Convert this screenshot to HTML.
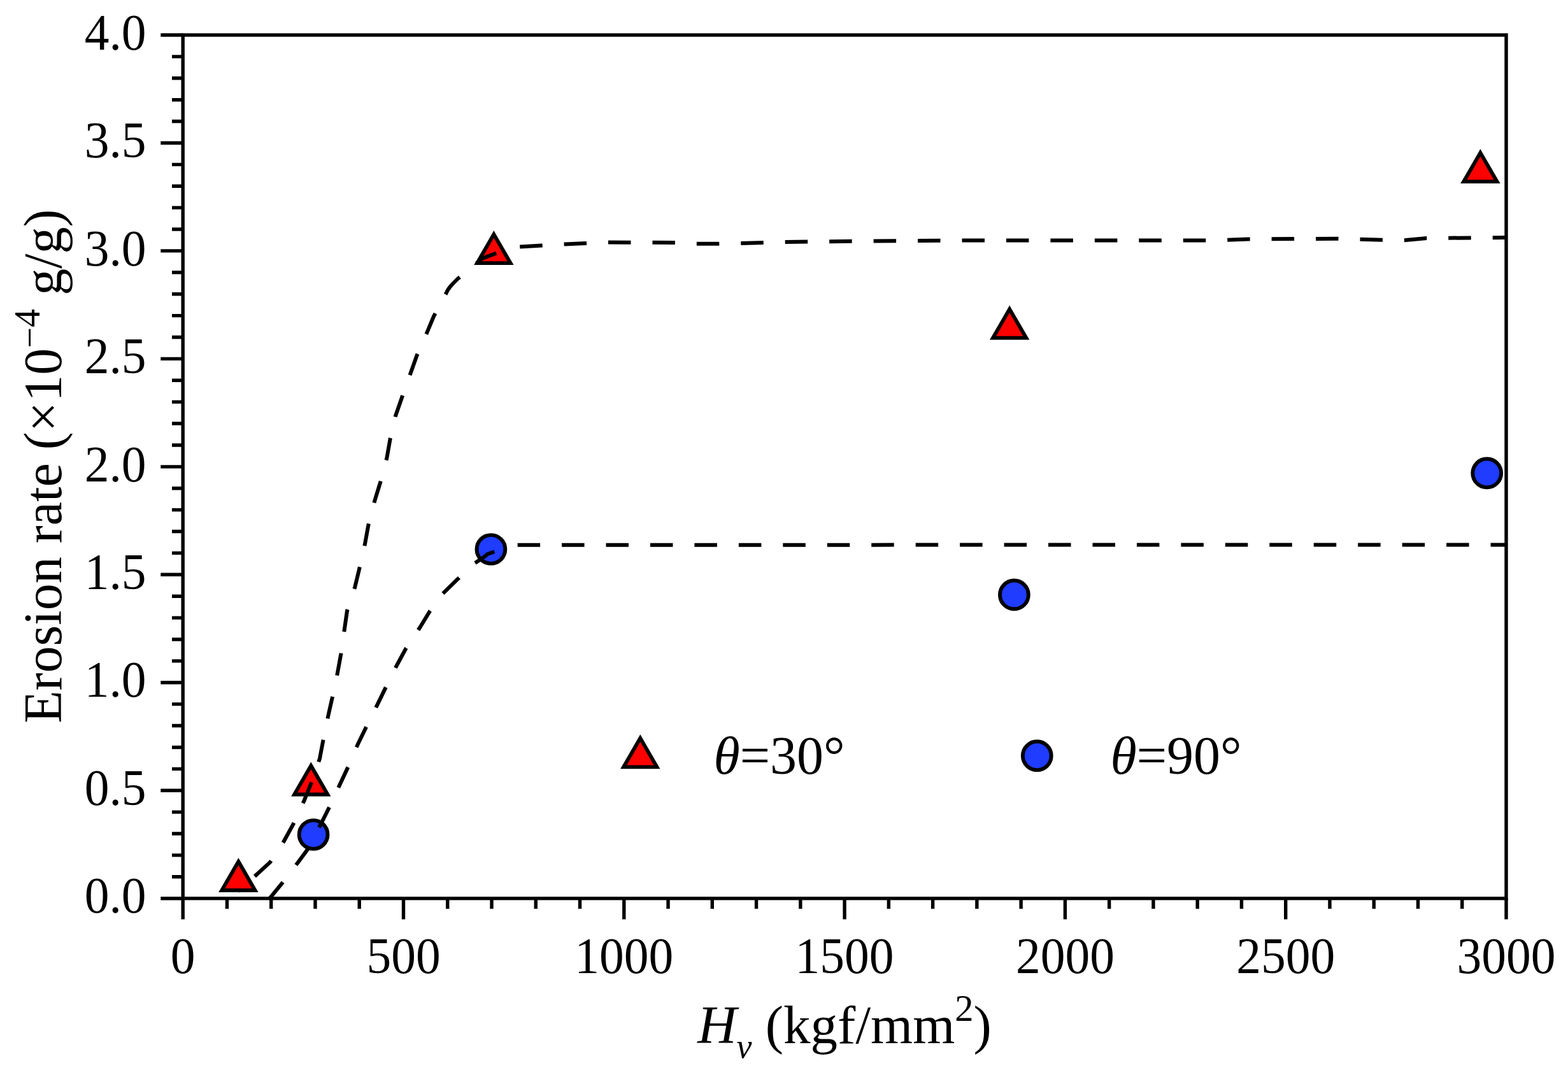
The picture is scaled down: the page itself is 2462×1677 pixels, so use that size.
<!DOCTYPE html>
<html><head><meta charset="utf-8"><title>Erosion rate vs Hv</title>
<style>html,body{margin:0;padding:0;background:#fff;}svg{display:block;}</style>
</head><body>
<svg width="2462" height="1677" viewBox="0 0 2462 1677">
<rect width="2462" height="1677" fill="#fff"/>
<path d="M374.4 1352.7 L400.6 1398.0 L348.2 1398.0 Z" fill="#fe0000" stroke="#000" stroke-width="5.8" stroke-linejoin="miter"/>
<path d="M488.3 1202.2 L514.5 1247.5 L462.1 1247.5 Z" fill="#fe0000" stroke="#000" stroke-width="5.8" stroke-linejoin="miter"/>
<path d="M775.4 367.9 L801.6 413.2 L749.2 413.2 Z" fill="#fe0000" stroke="#000" stroke-width="5.8" stroke-linejoin="miter"/>
<path d="M1585.2 485.4 L1611.4 530.7 L1559.0 530.7 Z" fill="#fe0000" stroke="#000" stroke-width="5.8" stroke-linejoin="miter"/>
<path d="M2324.4 239.9 L2350.6 285.2 L2298.2 285.2 Z" fill="#fe0000" stroke="#000" stroke-width="5.8" stroke-linejoin="miter"/>
<circle cx="492.1" cy="1310.5" r="22.4" fill="#1f3cff" stroke="#000" stroke-width="5.9"/>
<circle cx="770.9" cy="862.5" r="22.4" fill="#1f3cff" stroke="#000" stroke-width="5.9"/>
<circle cx="1592.4" cy="933.9" r="22.4" fill="#1f3cff" stroke="#000" stroke-width="5.9"/>
<circle cx="2334.7" cy="742.9" r="22.4" fill="#1f3cff" stroke="#000" stroke-width="5.9"/>
<g fill="none" stroke="#000" stroke-width="6.0" stroke-linecap="butt" stroke-linejoin="round" stroke-dasharray="35.5 33.95">
<path d="M374.1 1399.6 L399.9 1376.0 L424.1 1353.9 L445.6 1321.3 L460.6 1293.9 L477.4 1257.6 L488.9 1229.0 L502.0 1191.3 L507.3 1163.2 L515.2 1124.5 L521.7 1095.7 L530.0 1056.3 L535.4 1026.7 L540.9 987.8 L545.0 959.3 L557.3 921.8 L564.5 891.9 L573.1 853.7 L578.4 824.5 L588.3 786.3 L597.2 757.3 L607.3 719.4 L612.7 689.0 L621.2 652.4 L631.3 623.4 L644.3 586.9 L654.5 558.2 L670.1 522.9 L681.1 496.6 L700.5 460.5 L703.0 455.5 L706.5 450.5 L711.0 445.5 L717.9 438.5 L737.6 422.1 L757.4 405.7 L779.9 397.2 L797.5 392.3" stroke-dashoffset="34.40"/>
<path d="M797.5 392.3 L815.1 387.6 L850.7 385.6 L884.6 383.6 L919.4 382.0 L955.0 380.5 L1060.0 381.0 L1093.0 382.8 L1127.0 382.8 L1163.0 382.0 L1231.9 380.0 L1301.6 379.2 L1371.3 378.4 L1500.0 377.6 L1900.0 377.6 L1960.0 375.5 L2100.0 374.7 L2170.0 376.8 L2205.0 377.2 L2240.0 374.0 L2365.0 373.0" stroke-dashoffset="50.05"/>
<path d="M423.4 1410.7 L442.5 1387.4 L466.0 1356.7 L481.8 1335.4 L504.8 1292.0 L517.2 1267.3 L533.1 1232.9 L546.4 1204.6 L561.9 1168.5 L574.8 1142.0 L592.2 1107.1 L605.9 1079.0 L623.3 1044.2 L637.7 1017.6 L659.2 985.5 L674.9 959.8 L693.9 933.4 L717.2 910.6 L745.8 884.2 L757.5 876.5 L765.2 870.3 L776.8 866.0 L786.0 862.5 L794.6 859.8" stroke-dashoffset="2.65"/>
<path d="M794.6 859.8 L803.5 857.3 L812.5 855.7 L2365.0 855.5" stroke-dashoffset="50.93"/>
</g>
<g stroke="#000" stroke-width="5.4" fill="none">
<rect x="287.2" y="55.0" width="2077.8" height="1355.7" stroke-linejoin="miter"/>
<path d="M252.3 1410.70H287.2M270.0 1376.81H287.2M270.0 1342.91H287.2M270.0 1309.02H287.2M270.0 1275.13H287.2M252.3 1241.24H287.2M270.0 1207.35H287.2M270.0 1173.45H287.2M270.0 1139.56H287.2M270.0 1105.67H287.2M252.3 1071.78H287.2M270.0 1037.88H287.2M270.0 1003.99H287.2M270.0 970.10H287.2M270.0 936.21H287.2M252.3 902.31H287.2M270.0 868.42H287.2M270.0 834.53H287.2M270.0 800.63H287.2M270.0 766.74H287.2M252.3 732.85H287.2M270.0 698.96H287.2M270.0 665.06H287.2M270.0 631.17H287.2M270.0 597.28H287.2M252.3 563.39H287.2M270.0 529.50H287.2M270.0 495.60H287.2M270.0 461.71H287.2M270.0 427.82H287.2M252.3 393.92H287.2M270.0 360.03H287.2M270.0 326.14H287.2M270.0 292.25H287.2M270.0 258.36H287.2M252.3 224.46H287.2M270.0 190.57H287.2M270.0 156.68H287.2M270.0 122.79H287.2M270.0 88.89H287.2M252.3 55.00H287.2M287.20 1410.7V1443.6M356.46 1410.7V1427.0M425.72 1410.7V1427.0M494.98 1410.7V1427.0M564.24 1410.7V1427.0M633.50 1410.7V1443.6M702.76 1410.7V1427.0M772.02 1410.7V1427.0M841.28 1410.7V1427.0M910.54 1410.7V1427.0M979.80 1410.7V1443.6M1049.06 1410.7V1427.0M1118.32 1410.7V1427.0M1187.58 1410.7V1427.0M1256.84 1410.7V1427.0M1326.10 1410.7V1443.6M1395.36 1410.7V1427.0M1464.62 1410.7V1427.0M1533.88 1410.7V1427.0M1603.14 1410.7V1427.0M1672.40 1410.7V1443.6M1741.66 1410.7V1427.0M1810.92 1410.7V1427.0M1880.18 1410.7V1427.0M1949.44 1410.7V1427.0M2018.70 1410.7V1443.6M2087.96 1410.7V1427.0M2157.22 1410.7V1427.0M2226.48 1410.7V1427.0M2295.74 1410.7V1427.0M2365.00 1410.7V1443.6"/>
</g>
<text transform="translate(229.6 1433.40) scale(1 1.030)" font-family="Liberation Serif, serif" font-size="77.5" text-anchor="end">0.0</text>
<text transform="translate(229.6 1263.94) scale(1 1.030)" font-family="Liberation Serif, serif" font-size="77.5" text-anchor="end">0.5</text>
<text transform="translate(229.6 1094.48) scale(1 1.030)" font-family="Liberation Serif, serif" font-size="77.5" text-anchor="end">1.0</text>
<text transform="translate(229.6 925.01) scale(1 1.030)" font-family="Liberation Serif, serif" font-size="77.5" text-anchor="end">1.5</text>
<text transform="translate(229.6 755.55) scale(1 1.030)" font-family="Liberation Serif, serif" font-size="77.5" text-anchor="end">2.0</text>
<text transform="translate(229.6 586.09) scale(1 1.030)" font-family="Liberation Serif, serif" font-size="77.5" text-anchor="end">2.5</text>
<text transform="translate(229.6 416.62) scale(1 1.030)" font-family="Liberation Serif, serif" font-size="77.5" text-anchor="end">3.0</text>
<text transform="translate(229.6 247.16) scale(1 1.030)" font-family="Liberation Serif, serif" font-size="77.5" text-anchor="end">3.5</text>
<text transform="translate(229.6 77.70) scale(1 1.030)" font-family="Liberation Serif, serif" font-size="77.5" text-anchor="end">4.0</text>
<text transform="translate(287.20 1527.5) scale(1 1.030)" font-family="Liberation Serif, serif" font-size="77.5" text-anchor="middle">0</text>
<text transform="translate(633.50 1527.5) scale(1 1.030)" font-family="Liberation Serif, serif" font-size="77.5" text-anchor="middle">500</text>
<text transform="translate(979.80 1527.5) scale(1 1.030)" font-family="Liberation Serif, serif" font-size="77.5" text-anchor="middle">1000</text>
<text transform="translate(1326.10 1527.5) scale(1 1.030)" font-family="Liberation Serif, serif" font-size="77.5" text-anchor="middle">1500</text>
<text transform="translate(1672.40 1527.5) scale(1 1.030)" font-family="Liberation Serif, serif" font-size="77.5" text-anchor="middle">2000</text>
<text transform="translate(2018.70 1527.5) scale(1 1.030)" font-family="Liberation Serif, serif" font-size="77.5" text-anchor="middle">2500</text>
<text transform="translate(2365.00 1527.5) scale(1 1.030)" font-family="Liberation Serif, serif" font-size="77.5" text-anchor="middle">3000</text>
<text x="1095.2" y="1637.8" font-family="Liberation Serif, serif" font-size="85" fill="#000"><tspan font-style="italic">H</tspan><tspan font-style="italic" font-size="54" dy="23.2">v</tspan><tspan dy="-23.2"> (kgf/mm</tspan><tspan font-size="58.5" dy="-35.1">2</tspan><tspan dy="35.1">)</tspan></text>
<text transform="translate(95.7 1135.8) rotate(-90)" font-family="Liberation Serif, serif" font-size="84.1" fill="#000">Erosion rate (×10<tspan font-size="58" dy="-29.3">−</tspan><tspan font-size="58" dy="-4.7">4</tspan><tspan dy="34"> g/g)</tspan></text>
<path d="M1005.3 1159.0 L1031.5 1204.3 L979.1 1204.3 Z" fill="#fe0000" stroke="#000" stroke-width="5.8" stroke-linejoin="miter"/>
<circle cx="1628.3" cy="1186.7" r="22.4" fill="#1f3cff" stroke="#000" stroke-width="5.9"/>
<text x="1120.4" y="1215.2" font-family="Liberation Serif, serif" font-size="84" fill="#000"><tspan font-style="italic">θ</tspan>=30°</text>
<text x="1743.4" y="1215.2" font-family="Liberation Serif, serif" font-size="84" fill="#000"><tspan font-style="italic">θ</tspan>=90°</text>
</svg>
</body></html>
